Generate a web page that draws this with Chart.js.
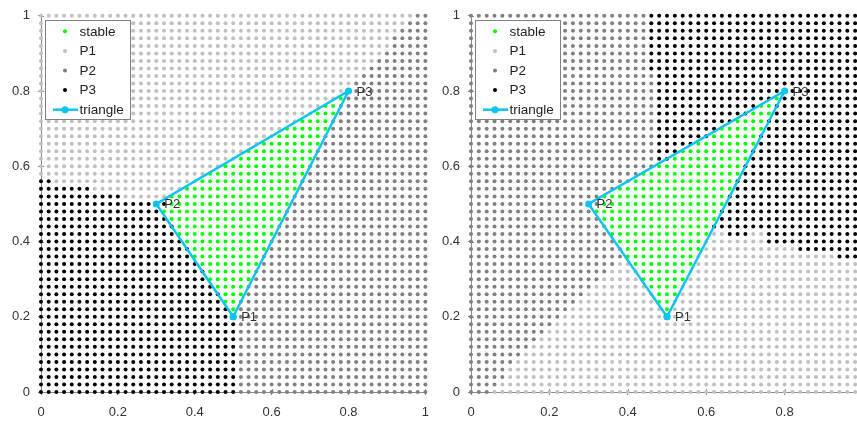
<!DOCTYPE html>
<html>
<head>
<meta charset="utf-8">
<script src="https://cdn.jsdelivr.net/npm/chart.js@4.4.0/dist/chart.umd.min.js"></script>
<style>
  html, body { margin: 0; padding: 0; background: #fff; overflow: hidden; }
  #wrap { position: relative; width: 857px; height: 425px; overflow: hidden; }
  canvas { position: absolute; top: 0; }
  #leftChart { left: 0; }
  #rightChart { left: 428px; }
</style>
</head>
<body>
<div id="wrap">
  <canvas id="leftChart" width="439" height="425"></canvas>
  <canvas id="rightChart" width="445" height="425"></canvas>
</div>
<script>
// sampled grid: 51 x 51 points from 0 to 1
const gridStep = 0.02;
const tickStep = 0.2;

const triangleX = [0.5, 0.3, 0.8, 0.5];
const triangleY = [0.2, 0.5, 0.8, 0.2];
const vertexNames = ['P1', 'P2', 'P3'];

const seriesKeys = ['s', '1', '2', '3'];
const seriesLabels = ['stable', 'P1', 'P2', 'P3'];
const seriesColors = ['#00ff00', '#c0c0c0', '#808080', '#000000'];

// one string per row, y = 0 first, y = 1 last.
// runs go left to right from x = 0: "3*26" = 26 points of P3
const leftRows = [
  '3*26 2*25', '3*26 2*25', '3*26 2*25', '3*26 2*25', '3*26 2*25',
  '3*26 2*25', '3*26 2*25', '3*26 2*25', '3*26 2*25', '3*26 2*25',
  '3*26 2*25',
  '3*25 s*1 2*25',
  '3*24 s*2 2*25',
  '3*24 s*3 2*24',
  '3*23 s*4 2*24',
  '3*22 s*6 2*23',
  '3*22 s*6 2*23',
  '3*21 s*8 2*22',
  '3*20 s*9 2*22',
  '3*20 s*10 2*21',
  '3*19 s*11 2*21',
  '3*18 s*13 2*20',
  '3*18 s*13 2*20',
  '3*17 s*15 2*19',
  '3*16 s*16 2*19',
  '3*17 s*16 2*18',
  '3*11 1*6 s*16 2*18',
  '3*7 1*12 s*15 2*17',
  '3*2 1*19 s*13 2*17',
  '1*22 s*13 2*16',
  '1*24 s*11 2*16',
  '1*26 s*10 2*15',
  '1*27 s*9 2*15',
  '1*29 s*8 2*14',
  '1*31 s*6 2*14',
  '1*32 s*6 2*13',
  '1*34 s*4 2*13',
  '1*36 s*3 2*12',
  '1*37 s*2 2*12',
  '1*39 s*1 2*11',
  '1*41 2*10',
  '1*41 2*10',
  '1*42 2*9',
  '1*43 2*8',
  '1*44 2*7',
  '1*45 2*6',
  '1*46 2*5',
  '1*46 2*5',
  '1*47 2*4',
  '1*48 2*3',
  '1*49 2*2'
];

const rightRows = [
  '2*3 1*48',
  '2*4 1*47',
  '2*5 1*46',
  '2*5 1*46',
  '2*6 1*45',
  '2*7 1*44',
  '2*8 1*43',
  '2*9 1*42',
  '2*10 1*41',
  '2*11 1*40',
  '2*12 1*39',
  '2*13 1*12 s*1 1*25',
  '2*14 1*10 s*2 1*25',
  '2*15 1*9 s*3 1*24',
  '2*16 1*7 s*4 1*24',
  '2*17 1*5 s*6 1*23',
  '2*18 1*4 s*6 1*23',
  '2*19 1*2 s*8 1*22',
  '2*20 s*9 1*18 3*4',
  '2*20 s*10 1*12 3*9',
  '2*19 s*11 1*8 3*13',
  '2*18 s*13 1*2 3*3 1*2 3*13',
  '2*18 s*13 3*20',
  '2*17 s*15 3*19',
  '2*16 s*16 3*19',
  '2*17 s*16 3*18',
  '2*17 s*16 3*18',
  '2*19 s*15 3*17',
  '2*21 s*13 3*17',
  '2*22 s*13 3*16',
  '2*24 s*11 3*16',
  '2*24 3*2 s*10 3*15',
  '2*24 3*3 s*9 3*15',
  '2*24 3*5 s*8 3*14',
  '2*24 3*7 s*6 3*14',
  '2*24 3*8 s*6 3*13',
  '2*24 3*10 s*4 3*13',
  '2*24 3*12 s*3 3*12',
  '2*24 3*13 s*2 3*12',
  '2*24 3*15 s*1 3*11',
  '2*24 3*27', '2*24 3*27', '2*24 3*27',
  '2*23 3*28', '2*23 3*28', '2*23 3*28', '2*23 3*28',
  '2*23 3*28', '2*23 3*28', '2*23 3*28', '2*23 3*28'
];

const triColor = '#0cc4f2';
const axisColor = '#8a8a8a';
const textColor = '#333333';
const fontFamily = '"Liberation Sans", Arial, sans-serif';

function pointsFromRows(rows) {
  const out = {};
  seriesKeys.forEach(k => out[k] = []);
  rows.forEach((row, j) => {
    let i = 0;
    row.split(' ').forEach(run => {
      const [key, n] = run.split('*');
      for (let c = 0; c < +n; c++, i++) {
        out[key].push({ x: +(i * gridStep).toFixed(2), y: +(j * gridStep).toFixed(2) });
      }
    });
  });
  return out;
}

function buildDatasets(rows) {
  const pts = pointsFromRows(rows);
  const sets = seriesKeys.map((k, i) => ({
    label: seriesLabels[i],
    data: pts[k],
    backgroundColor: seriesColors[i],
    pointRadius: 2,
    pointHoverRadius: 2,
    pointBorderWidth: 0,
    clip: false,
    order: 1
  }));
  sets.push({
    label: 'triangle',
    data: triangleX.map((x, i) => ({ x: x, y: triangleY[i] })),
    showLine: true,
    borderColor: triColor,
    backgroundColor: triColor,
    borderWidth: 2.5,
    pointRadius: 3.5,
    pointHoverRadius: 3.5,
    pointBorderWidth: 0,
    clip: false,
    order: 0
  });
  return sets;
}

// tick marks crossing the axis (inner half)
const crossTicks = {
  id: 'crossTicks',
  beforeDatasetsDraw(chart) {
    const { ctx, chartArea: a, scales: { x, y } } = chart;
    ctx.save();
    ctx.strokeStyle = axisColor;
    ctx.lineWidth = 1;
    ctx.beginPath();
    x.ticks.forEach(t => {
      const px = Math.round(x.getPixelForValue(t.value)) + 0.5;
      ctx.moveTo(px, a.bottom);
      ctx.lineTo(px, a.bottom - 3);
    });
    y.ticks.forEach(t => {
      const py = Math.round(y.getPixelForValue(t.value)) + 0.5;
      ctx.moveTo(a.left, py);
      ctx.lineTo(a.left + 3, py);
    });
    ctx.stroke();
    ctx.restore();
  }
};

const vertexLabels = {
  id: 'vertexLabels',
  afterDatasetsDraw(chart) {
    const { ctx, scales: { x, y } } = chart;
    ctx.save();
    ctx.font = '13px ' + fontFamily;
    ctx.fillStyle = textColor;
    ctx.textBaseline = 'middle';
    vertexNames.forEach((name, i) => {
      ctx.fillText(name, x.getPixelForValue(triangleX[i]) + 8, y.getPixelForValue(triangleY[i]) + 1);
    });
    ctx.restore();
  }
};

const boxLegend = {
  id: 'boxLegend',
  afterDraw(chart) {
    const { ctx, chartArea: a } = chart;
    const bx = Math.round(a.left + 3.5) + 0.5;
    const by = Math.round(a.top + 4) + 0.5;
    ctx.save();
    ctx.fillStyle = '#ffffff';
    ctx.strokeStyle = '#808080';
    ctx.lineWidth = 1;
    ctx.fillRect(bx, by, 85, 99);
    ctx.strokeRect(bx, by, 85, 99);
    ctx.font = '13.5px ' + fontFamily;
    ctx.textBaseline = 'middle';
    const mx = a.left + 24;
    chart.data.datasets.forEach((ds, i) => {
      const ry = a.top + 15.5 + i * 19.6;
      if (ds.showLine) {
        ctx.strokeStyle = ds.borderColor;
        ctx.lineWidth = 2.5;
        ctx.beginPath();
        ctx.moveTo(a.left + 12, ry);
        ctx.lineTo(a.left + 37, ry);
        ctx.stroke();
      }
      ctx.fillStyle = ds.backgroundColor;
      ctx.beginPath();
      ctx.arc(mx, ry, ds.pointRadius, 0, Math.PI * 2);
      ctx.fill();
      ctx.fillStyle = '#222222';
      ctx.fillText(ds.label, a.left + 38.5, ry + 0.5);
    });
    ctx.restore();
  }
};

function fmt(v) {
  return String(Math.round(v * 10) / 10);
}

// the right chart is cut at the window edge, so its last x label is not shown
function makeChart(id, rows, axisWidth, padRight, xLabelMax) {
  return new Chart(document.getElementById(id), {
    type: 'scatter',
    data: { datasets: buildDatasets(rows) },
    options: {
      responsive: false,
      animation: false,
      events: [],
      devicePixelRatio: 1,
      layout: { padding: { top: 13, right: padRight, bottom: 0, left: 0 } },
      plugins: { legend: { display: false }, tooltip: { enabled: false } },
      scales: {
        x: {
          type: 'linear', min: 0, max: 1,
          afterFit: s => { s.height = 33; },
          border: { color: axisColor, width: 1 },
          grid: { drawOnChartArea: false, drawTicks: true, tickLength: 3, color: axisColor },
          ticks: { stepSize: tickStep, padding: 10, maxRotation: 0, autoSkip: false,
                   color: textColor, font: { size: 13, family: fontFamily },
                   callback: v => (v > xLabelMax + 1e-9 ? '' : fmt(v)) }
        },
        y: {
          type: 'linear', min: 0, max: 1,
          afterFit: s => { s.width = axisWidth; },
          border: { color: axisColor, width: 1 },
          grid: { drawOnChartArea: false, drawTicks: true, tickLength: 3, color: axisColor },
          ticks: { stepSize: tickStep, padding: 8, autoSkip: false,
                   color: textColor, font: { size: 13, family: fontFamily }, callback: fmt }
        }
      }
    },
    plugins: [crossTicks, vertexLabels, boxLegend]
  });
}

makeChart('leftChart', leftRows, 41, 9, 1);
makeChart('rightChart', rightRows, 43, 10, 0.8);
</script>
</body>
</html>
